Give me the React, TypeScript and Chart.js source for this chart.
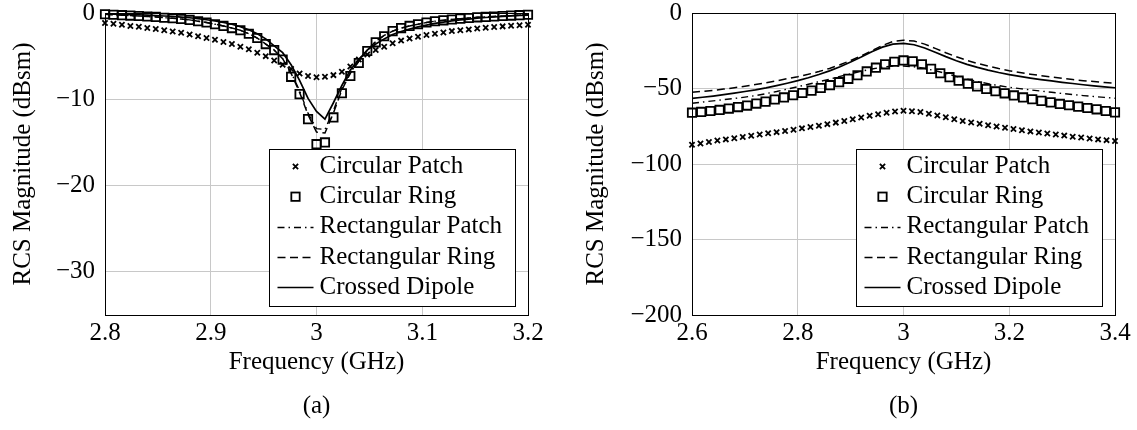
import React, { useEffect, useRef } from 'react';
import { Chart, registerables } from 'chart.js';

Chart.register(...registerables);

const FONT = "'Liberation Serif', 'Times New Roman', Times, serif";
const FS = 25;

const seriesNames = ['Circular Patch', 'Circular Ring', 'Rectangular Patch', 'Rectangular Ring', 'Crossed Dipole'];

// ---------- Panel (a) ----------
const xTicksA = [2.8, 2.9, 3, 3.1, 3.2];
const yTicksA = [0, -10, -20, -30];
const freqA = [2.800, 2.808, 2.816, 2.824, 2.832, 2.840, 2.848, 2.856, 2.864, 2.872, 2.880, 2.888, 2.896, 2.904, 2.912, 2.920, 2.928, 2.936, 2.944, 2.952, 2.960, 2.968, 2.976, 2.984, 2.992, 3.000, 3.008, 3.016, 3.024, 3.032, 3.040, 3.048, 3.056, 3.064, 3.072, 3.080, 3.088, 3.096, 3.104, 3.112, 3.120, 3.128, 3.136, 3.144, 3.152, 3.160, 3.168, 3.176, 3.184, 3.192, 3.200];
const circPatchA = [-1.15, -1.25, -1.35, -1.5, -1.6, -1.75, -1.85, -2.0, -2.15, -2.3, -2.5, -2.7, -2.9, -3.1, -3.35, -3.6, -3.9, -4.2, -4.6, -5.0, -5.5, -6.0, -6.5, -7.0, -7.3, -7.45, -7.4, -7.2, -6.8, -6.2, -5.4, -4.8, -4.3, -3.9, -3.5, -3.2, -2.95, -2.75, -2.55, -2.4, -2.25, -2.1, -2.0, -1.9, -1.8, -1.7, -1.62, -1.55, -1.48, -1.42, -1.35];
const circRingA = [-0.15, -0.2, -0.25, -0.3, -0.35, -0.4, -0.45, -0.55, -0.6, -0.7, -0.8, -0.95, -1.1, -1.3, -1.5, -1.75, -2.0, -2.4, -2.9, -3.6, -4.3, -5.4, -7.4, -9.4, -12.3, -15.2, -15.0, -12.1, -9.3, -7.3, -5.8, -4.4, -3.4, -2.7, -2.1, -1.75, -1.5, -1.3, -1.1, -0.95, -0.85, -0.75, -0.65, -0.58, -0.5, -0.45, -0.4, -0.35, -0.3, -0.25, -0.2];
const rectPatchA = [-0.15, -0.2, -0.25, -0.3, -0.35, -0.4, -0.45, -0.55, -0.6, -0.7, -0.8, -0.95, -1.1, -1.3, -1.5, -1.75, -2.0, -2.4, -2.9, -3.6, -4.3, -5.3, -6.9, -9.0, -11.6, -13.4, -13.5, -11.3, -8.7, -6.9, -5.6, -4.3, -3.3, -2.6, -2.1, -1.75, -1.5, -1.3, -1.1, -0.95, -0.85, -0.75, -0.65, -0.58, -0.5, -0.45, -0.4, -0.35, -0.3, -0.25, -0.2];
const rectRingA = [-0.15, -0.2, -0.25, -0.3, -0.35, -0.4, -0.45, -0.55, -0.6, -0.7, -0.8, -0.95, -1.1, -1.3, -1.5, -1.75, -2.0, -2.4, -2.9, -3.6, -4.3, -5.3, -7.0, -9.2, -11.8, -13.8, -13.9, -11.6, -8.9, -7.0, -5.6, -4.3, -3.3, -2.6, -2.1, -1.75, -1.5, -1.3, -1.1, -0.95, -0.85, -0.75, -0.65, -0.58, -0.5, -0.45, -0.4, -0.35, -0.3, -0.25, -0.2];
const dipoleA = [-0.1, -0.12, -0.15, -0.18, -0.2, -0.25, -0.3, -0.35, -0.4, -0.48, -0.55, -0.65, -0.78, -0.92, -1.1, -1.3, -1.6, -1.95, -2.4, -3.0, -3.8, -4.6, -6.0, -7.8, -9.9, -11.4, -12.3, -10.4, -8.4, -6.6, -5.4, -4.3, -3.6, -3.0, -2.5, -2.15, -1.85, -1.6, -1.4, -1.2, -1.05, -0.92, -0.8, -0.7, -0.6, -0.52, -0.45, -0.39, -0.33, -0.28, -0.24];

// ---------- Panel (b) ----------
const xTicksB = [2.6, 2.8, 3, 3.2, 3.4];
const yTicksB = [0, -50, -100, -150, -200];
const freqBPatch = [2.600, 2.616, 2.632, 2.648, 2.664, 2.680, 2.696, 2.712, 2.728, 2.744, 2.760, 2.776, 2.792, 2.808, 2.824, 2.840, 2.856, 2.872, 2.888, 2.904, 2.920, 2.936, 2.952, 2.968, 2.984, 3.000, 3.016, 3.032, 3.048, 3.064, 3.080, 3.096, 3.112, 3.128, 3.144, 3.160, 3.176, 3.192, 3.208, 3.224, 3.240, 3.256, 3.272, 3.288, 3.304, 3.320, 3.336, 3.352, 3.368, 3.384, 3.400];
const circPatchB = [-87.3, -86.4, -85.4, -84.5, -83.7, -82.9, -82.1, -81.3, -80.5, -79.7, -78.9, -78.1, -77.3, -76.4, -75.5, -74.6, -73.6, -72.6, -71.5, -70.4, -69.2, -68.1, -67.0, -66.1, -65.2, -64.8, -65.0, -65.6, -66.7, -67.9, -69.1, -70.3, -71.5, -72.5, -73.4, -74.3, -75.2, -76.0, -76.8, -77.6, -78.4, -79.1, -79.8, -80.5, -81.2, -81.9, -82.5, -83.1, -83.7, -84.2, -84.7];
const freqBRing = [2.6, 2.6174, 2.6348, 2.6522, 2.6696, 2.687, 2.7043, 2.7217, 2.7391, 2.7565, 2.7739, 2.7913, 2.8087, 2.8261, 2.8435, 2.8609, 2.8783, 2.8957, 2.913, 2.9304, 2.9478, 2.9652, 2.9826, 3.0, 3.0174, 3.0348, 3.0522, 3.0696, 3.087, 3.1043, 3.1217, 3.1391, 3.1565, 3.1739, 3.1913, 3.2087, 3.2261, 3.2435, 3.2609, 3.2783, 3.2957, 3.313, 3.3304, 3.3478, 3.3652, 3.3826, 3.4];
const circRingB = [-66.0, -65.5, -64.9, -64.2, -63.3, -62.3, -61.3, -60.0, -58.7, -57.3, -55.9, -54.5, -53.0, -51.4, -49.7, -47.8, -45.8, -43.6, -41.2, -38.7, -36.2, -34.0, -32.3, -31.4, -32.0, -34.0, -37.0, -39.9, -42.5, -44.8, -46.8, -48.6, -50.3, -51.8, -53.2, -54.6, -55.9, -57.1, -58.2, -59.2, -60.2, -61.1, -62.0, -62.9, -63.8, -64.9, -65.8];
const freqBLine = [2.60, 2.62, 2.64, 2.66, 2.68, 2.70, 2.72, 2.74, 2.76, 2.78, 2.80, 2.82, 2.84, 2.86, 2.88, 2.90, 2.92, 2.94, 2.96, 2.98, 3.00, 3.02, 3.04, 3.06, 3.08, 3.10, 3.12, 3.14, 3.16, 3.18, 3.20, 3.22, 3.24, 3.26, 3.28, 3.30, 3.32, 3.34, 3.36, 3.38, 3.40];
const rectPatchB = [-59.8, -59.0, -58.2, -57.4, -56.6, -55.7, -54.7, -53.4, -52.0, -50.4, -48.8, -47.2, -45.5, -43.8, -42.0, -40.3, -38.6, -37.1, -35.9, -35.2, -35.1, -35.6, -36.7, -38.2, -40.0, -42.0, -43.8, -45.4, -46.8, -48.1, -49.2, -50.1, -50.9, -51.7, -52.5, -53.3, -54.0, -54.7, -55.3, -55.9, -56.5];
const rectRingB = [-52.5, -51.9, -51.2, -50.4, -49.5, -48.5, -47.4, -46.2, -44.9, -43.5, -42.2, -40.6, -38.8, -36.7, -34.3, -31.5, -28.4, -25.0, -21.5, -18.9, -18.0, -18.6, -20.6, -23.4, -26.3, -29.0, -31.4, -33.4, -35.2, -36.8, -38.2, -39.4, -40.5, -41.5, -42.4, -43.3, -44.1, -44.8, -45.4, -46.0, -46.6];
const dipoleB = [-56.5, -55.8, -55.0, -54.1, -53.1, -52.0, -50.9, -49.6, -48.1, -46.5, -44.8, -42.9, -40.7, -38.3, -35.6, -32.5, -29.2, -25.7, -22.6, -20.6, -20.1, -21.0, -23.2, -26.0, -28.9, -31.6, -34.0, -36.0, -37.8, -39.4, -40.8, -42.0, -43.1, -44.1, -45.0, -45.9, -46.7, -47.5, -48.2, -48.9, -49.5];

const pts = (xs: number[], ys: number[]) => xs.map((x, i) => ({ x, y: ys[i] }));
const fmtX = (v: number) => String(Math.round(v * 100) / 100);
const fmtY = (v: number) => (v < 0 ? '\u2212' + String(Math.abs(v)) : String(v));

const CROSS_R = 3.7;
const RECT_R = 5.9;
const DASH_DOT = [7, 4, 1.5, 4];
const DASHED = [8, 4.5];

const framePlugin = {
  id: 'frame',
  beforeDatasetsDraw(chart: any) {
    const { ctx, chartArea } = chart;
    const l = Math.round(chartArea.left) + 0.5;
    const t = Math.round(chartArea.top) + 0.5;
    const r = Math.round(chartArea.right) + 0.5;
    const b = Math.round(chartArea.bottom) + 0.5;
    ctx.save();
    ctx.strokeStyle = '#000';
    ctx.lineWidth = 1;
    ctx.setLineDash([]);
    ctx.strokeRect(l, t, r - l, b - t);
    ctx.restore();
  },
};

const legendPlugin = {
  id: 'boxLegend',
  afterDatasetsDraw(chart: any) {
    const { ctx, chartArea } = chart;
    const w = 246;
    const h = 157;
    const x0 = Math.round(chartArea.right - 13 - w) + 0.5;
    const y0 = Math.round(chartArea.bottom - 9 - h) + 0.5;
    ctx.save();
    ctx.fillStyle = '#fff';
    ctx.fillRect(x0, y0, w, h);
    ctx.strokeStyle = '#000';
    ctx.lineWidth = 1;
    ctx.setLineDash([]);
    ctx.strokeRect(x0, y0, w, h);
    chart.data.datasets.forEach((ds: any, i: number) => {
      const cy = y0 + 17 + i * 30.2;
      const mx = x0 + 26;
      ctx.strokeStyle = '#000';
      if (ds.showLine) {
        ctx.beginPath();
        ctx.setLineDash(ds.borderDash || []);
        ctx.lineWidth = ds.borderWidth;
        const yy = Math.round(cy) + 0.5;
        ctx.moveTo(x0 + 8, yy);
        ctx.lineTo(x0 + 44, yy);
        ctx.stroke();
        ctx.setLineDash([]);
      } else if (ds.pointStyle === 'rect') {
        const s = 2 * Math.SQRT1_2 * ds.pointRadius;
        ctx.lineWidth = ds.pointBorderWidth;
        ctx.strokeRect(mx - s / 2, cy - s / 2, s, s);
      } else {
        const d = Math.SQRT1_2 * ds.pointRadius;
        ctx.lineWidth = ds.pointBorderWidth;
        ctx.beginPath();
        ctx.moveTo(mx - d, cy - d);
        ctx.lineTo(mx + d, cy + d);
        ctx.moveTo(mx + d, cy - d);
        ctx.lineTo(mx - d, cy + d);
        ctx.stroke();
      }
      ctx.fillStyle = '#000';
      ctx.font = `${FS}px ${FONT}`;
      ctx.textBaseline = 'middle';
      ctx.textAlign = 'left';
      ctx.fillText(ds.label, x0 + 50, cy);
    });
    ctx.restore();
  },
};

type PanelSpec = {
  patch: { x: number[]; y: number[] };
  ring: { x: number[]; y: number[] };
  rectPatch: { x: number[]; y: number[] };
  rectRing: { x: number[]; y: number[] };
  dipole: { x: number[]; y: number[] };
  xTicks: number[];
  yTicks: number[];
  yMin: number;
  yAxisWidth: number;
  yTitlePad: number;
  padRight: number;
  caption: string;
};

function buildConfig(p: PanelSpec): any {
  const font = { family: FONT, size: FS, weight: 'normal' as const };
  const xMin = p.xTicks[0];
  const xMax = p.xTicks[p.xTicks.length - 1];
  const yMax = Math.max(...p.yTicks);
  return {
    type: 'scatter',
    data: {
      datasets: [
        {
          label: seriesNames[0],
          data: pts(p.patch.x, p.patch.y),
          showLine: false,
          pointStyle: 'crossRot',
          pointRadius: CROSS_R,
          pointBorderWidth: 1.8,
          borderColor: '#000',
          backgroundColor: 'rgba(0,0,0,0)',
          clip: false,
        },
        {
          label: seriesNames[1],
          data: pts(p.ring.x, p.ring.y),
          showLine: false,
          pointStyle: 'rect',
          pointRadius: RECT_R,
          pointBorderWidth: 1.8,
          borderColor: '#000',
          backgroundColor: 'rgba(0,0,0,0)',
          clip: false,
        },
        {
          label: seriesNames[2],
          data: pts(p.rectPatch.x, p.rectPatch.y),
          showLine: true,
          pointRadius: 0,
          borderColor: '#000',
          borderWidth: 1.4,
          borderDash: DASH_DOT,
          tension: 0,
        },
        {
          label: seriesNames[3],
          data: pts(p.rectRing.x, p.rectRing.y),
          showLine: true,
          pointRadius: 0,
          borderColor: '#000',
          borderWidth: 1.5,
          borderDash: DASHED,
          tension: 0,
        },
        {
          label: seriesNames[4],
          data: pts(p.dipole.x, p.dipole.y),
          showLine: true,
          pointRadius: 0,
          borderColor: '#000',
          borderWidth: 1.7,
          tension: 0,
        },
      ],
    },
    options: {
      responsive: false,
      animation: false,
      events: [],
      layout: { padding: { top: 13, right: p.padRight, bottom: 0, left: 0 } },
      scales: {
        x: {
          type: 'linear',
          min: xMin,
          max: xMax,
          afterBuildTicks: (s: any) => {
            s.ticks = p.xTicks.map((v) => ({ value: v }));
          },
          afterFit: (s: any) => {
            s.height = 62;
            s.paddingLeft = 0;
            s.paddingRight = 0;
          },
          grid: { color: '#c8c8c8', lineWidth: 1, drawTicks: false },
          border: { display: false },
          ticks: {
            padding: 3,
            color: '#000',
            font,
            autoSkip: false,
            maxRotation: 0,
            callback: (v: any) => fmtX(Number(v)),
          },
          title: {
            display: true,
            text: 'Frequency (GHz)',
            color: '#000',
            font,
            padding: { top: 0, bottom: 0 },
          },
        },
        y: {
          type: 'linear',
          min: p.yMin,
          max: yMax,
          afterBuildTicks: (s: any) => {
            s.ticks = p.yTicks.map((v) => ({ value: v }));
          },
          afterFit: (s: any) => {
            s.width = p.yAxisWidth;
            s.paddingTop = 0;
            s.paddingBottom = 0;
          },
          grid: { color: '#c8c8c8', lineWidth: 1, drawTicks: false },
          border: { display: false },
          ticks: {
            padding: 10,
            color: '#000',
            font,
            autoSkip: false,
            callback: (v: any) => fmtY(Number(v)),
          },
          title: {
            display: true,
            text: 'RCS Magnitude (dBsm)',
            color: '#000',
            font,
            padding: { top: p.yTitlePad, bottom: 0 },
          },
        },
      },
      plugins: {
        legend: { display: false },
        tooltip: { enabled: false },
        title: {
          display: true,
          position: 'bottom',
          fullSize: false,
          text: p.caption,
          color: '#000',
          font,
          padding: { top: 14.5, bottom: 8.5 },
        },
      },
    },
    plugins: [framePlugin, legendPlugin],
  };
}

function Panel({ spec, left, width }: { spec: PanelSpec; left: number; width: number }) {
  const ref = useRef<HTMLCanvasElement | null>(null);
  useEffect(() => {
    if (!ref.current) return;
    const chart = new Chart(ref.current, buildConfig(spec));
    return () => chart.destroy();
  }, []);
  return (
    <canvas
      ref={ref}
      width={width}
      height={430}
      style={{ position: 'absolute', left, top: 0, width, height: 430, display: 'block' }}
    />
  );
}

const specA: PanelSpec = {
  patch: { x: freqA, y: circPatchA },
  ring: { x: freqA, y: circRingA },
  rectPatch: { x: freqA, y: rectPatchA },
  rectRing: { x: freqA, y: rectRingA },
  dipole: { x: freqA, y: dipoleA },
  xTicks: xTicksA,
  yTicks: yTicksA,
  yMin: -35,
  yAxisWidth: 105,
  yTitlePad: 8,
  padRight: 32,
  caption: '(a)',
};

const specB: PanelSpec = {
  patch: { x: freqBPatch, y: circPatchB },
  ring: { x: freqBRing, y: circRingB },
  rectPatch: { x: freqBLine, y: rectPatchB },
  rectRing: { x: freqBLine, y: rectRingB },
  dipole: { x: freqBLine, y: dipoleB },
  xTicks: xTicksB,
  yTicks: yTicksB,
  yMin: -200,
  yAxisWidth: 132,
  yTitlePad: 21,
  padRight: 22,
  caption: '(b)',
};

export default function App() {
  useEffect(() => {
    document.body.style.margin = '0';
  }, []);
  return (
    <div style={{ position: 'fixed', left: 0, top: 0, width: 1137, height: 430, background: '#fff' }}>
      <Panel spec={specA} left={0} width={560} />
      <Panel spec={specB} left={560} width={577} />
    </div>
  );
}
